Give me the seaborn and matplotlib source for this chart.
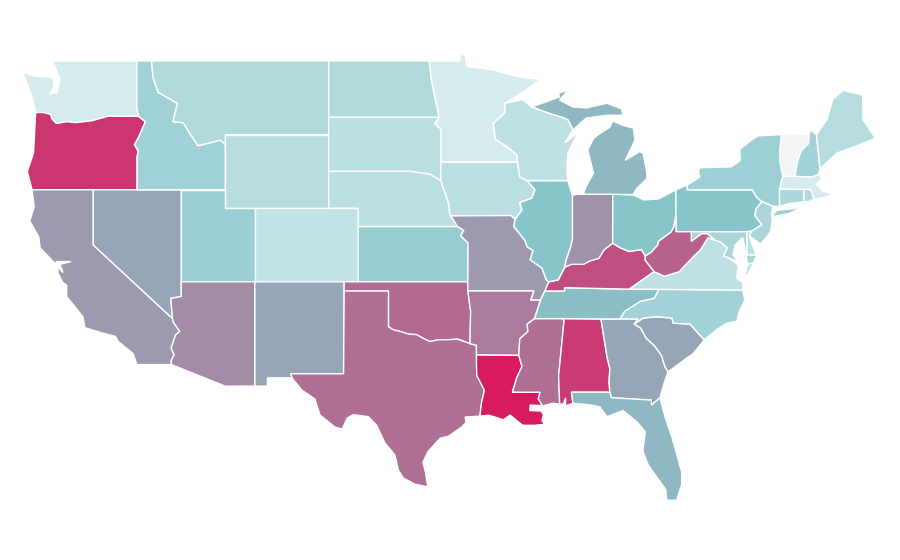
import matplotlib
matplotlib.use("Agg")
import matplotlib.pyplot as plt
from matplotlib.colors import LinearSegmentedColormap
import seaborn as sns

# state rates (0 = palest, 100 = deepest)
state_names = ["WA", "OR", "CA", "NV", "ID", "MT", "WY", "UT", "CO", "AZ", "NM", "ND", "SD", "NE", "KS", "OK",
               "TX", "MN", "IA", "MO", "AR", "LA", "MS", "AL", "GA", "FL", "SC", "NC", "TN", "KY", "IL", "IN",
               "OH", "MI", "WI", "PA", "NY", "NJ", "DE", "MD", "VA", "WV", "CT", "RI", "MA", "VT", "NH", "ME"]
state_values = [14, 92, 63, 59, 39, 31, 28, 42, 22, 67, 59, 31, 26, 26, 44, 77,
                75, 14, 26, 63, 72, 100, 75, 91, 59, 54, 59, 38, 52, 85, 50, 65,
                50, 54, 24, 50, 40, 34, 26, 34, 24, 79, 33, 30, 14, 0, 38, 28]

# colour stops of the scale
scale_stops = [0, 0.14, 0.5, 1]
scale_colors = ["#f3f4f6", "#d5ebee", "#88c6cb", "#d81b60"]

# borders used by two states, as (lon, lat)
rio_red = [(-100, 34.56), (-99.7, 34.4), (-99.2, 34.3), (-98.6, 34.15), (-98.1, 34.13), (-97.7, 33.95), (-97.2, 33.75),
           (-96.6, 33.85), (-96, 33.85), (-95.3, 33.88), (-94.48, 33.64)]
miss_lower = [(-90.1, 35), (-90.6, 34.7), (-90.55, 34.3), (-91.1, 33.9), (-91.17, 33)]
miss_la = [(-91.17, 33), (-90.95, 32.4), (-91.3, 31.8), (-91.6, 31)]
ohio_river = [(-89.13, 37), (-88.5, 37.1), (-88.05, 37.8), (-87.6, 37.95), (-86.8, 37.95), (-86.3, 38.15), (-85.75, 38.27),
              (-85.4, 38.73), (-84.81, 39.1)]
ohio_upper = [(-84.81, 39.1), (-84.3, 38.85), (-83.7, 38.65), (-82.85, 38.75), (-82.6, 38.4)]
wabash = [(-87.53, 39.35), (-87.65, 38.9), (-87.95, 38.2), (-88.05, 37.8)]
miss_il = [(-89.13, 37), (-89.3, 37.1), (-89.6, 37.75), (-90.4, 38.2), (-90.2, 38.7), (-90.6, 38.9), (-90.75, 39.25),
           (-91.5, 40), (-91.42, 40.4)]
miss_ia = [(-91.42, 40.4), (-90.95, 40.9), (-91.1, 41.3), (-90.28, 41.55), (-90.07, 42), (-90.6, 42.5)]
snake = [(-116.92, 45.99), (-116.47, 45.7), (-116.9, 44.9), (-117.2, 44.45), (-116.95, 44.1), (-117.03, 43.8), (-117.03, 42)]
columbia = [(-123.9, 46.2), (-123.4, 46.2), (-122.9, 46.1), (-122.8, 45.85), (-122.5, 45.6), (-121.8, 45.7), (-121.2, 45.65),
            (-120.1, 45.75), (-119.3, 45.93), (-118.98, 46), (-116.92, 45.99)]
bitterroot = [(-116.05, 49), (-115.95, 48.1), (-115.6, 47.3), (-114.3, 46.7), (-114.6, 45.7), (-113.9, 45.65), (-113.45, 45.05),
              (-112.9, 44.4), (-112.1, 44.55), (-111.4, 44.7), (-111.05, 44.45)]
colorado_r = [(-114.7, 32.5), (-114.72, 32.72), (-114.52, 33.03), (-114.72, 33.4), (-114.43, 34.1), (-114.14, 34.3),
              (-114.57, 34.8), (-114.63, 35)]
savannah = [(-83.35, 34.7), (-82.9, 34.48), (-82.55, 33.95), (-81.95, 33.5), (-81.5, 33), (-81.27, 32.4), (-81.06, 32.1)]
appalach = [(-77.87, 39.25), (-78.35, 39.4), (-78.85, 38.75), (-79.3, 38.4), (-79.9, 37.9), (-80.3, 37.55), (-81.3, 37.3), (-82, 37.55)]
delaware = [(-74.7, 41.36), (-75.1, 40.95), (-75.17, 40.6), (-74.7, 40.1), (-75.4, 39.75)]

# state outlines, a state may have more than one part
outlines = {
    "WA": [[(-122.76, 49), (-117.04, 49), (-117.04, 46.4)] + columbia[::-1] + [(-124.05, 46.7), (-124.15, 47), (-124.4, 47.6),
            (-124.7, 48.15), (-124.72, 48.38), (-123.9, 48.17), (-123.1, 48.15), (-122.75, 48.1), (-122.65, 47.6), (-122.95, 47.2),
            (-122.45, 47.3), (-122.35, 47.7), (-122.25, 48), (-122.5, 48.5)]],
    "OR": [columbia + snake[1:] + [(-124.15, 42), (-124.47, 43), (-124.05, 44), (-123.95, 45.5)]],
    "CA": [[(-124.15, 42), (-120, 42), (-120, 39)] + colorado_r[::-1] + [(-117.05, 32.5), (-117.3, 33.1), (-118.3, 33.75),
            (-118.5, 34.03), (-119.3, 34.2), (-120.56, 34.5), (-120.7, 35.1), (-121.8, 36.2), (-121.8, 36.8), (-122.1, 37),
            (-122.4, 37.5), (-122.4, 37.8), (-122.05, 37.5), (-122.25, 37.95), (-121.5, 38.1), (-122.45, 38.1), (-122.6, 38),
            (-123.6, 38.85), (-123.7, 39.45), (-124.3, 40.3), (-124, 41.1)]],
    "NV": [[(-120, 42), (-114.04, 42), (-114.04, 36.2), (-114.75, 36.1), (-114.63, 35), (-120, 39)]],
    "ID": [[(-117.04, 49)] + bitterroot + [(-111.05, 42)] + snake[::-1] + [(-117.04, 46.4)]],
    "MT": [[(-104.05, 49), (-104.05, 45), (-111.05, 45)] + bitterroot[::-1]],
    "WY": [[(-111.05, 45), (-104.05, 45), (-104.05, 41), (-111.05, 41)]],
    "UT": [[(-114.04, 42), (-111.05, 42), (-111.05, 41), (-109.05, 41), (-109.05, 37), (-114.04, 37)]],
    "CO": [[(-109.05, 41), (-102.05, 41), (-102.05, 37), (-109.05, 37)]],
    "AZ": [[(-114.04, 37), (-109.05, 37), (-109.05, 31.33), (-111.07, 31.33)] + colorado_r + [(-114.75, 36.1), (-114.04, 36.2)]],
    "NM": [[(-109.05, 37), (-103, 37), (-103.04, 32), (-106.62, 32), (-106.53, 31.78), (-108.2, 31.78), (-108.2, 31.33),
            (-109.05, 31.33)]],
    "ND": [[(-104.05, 49), (-97.23, 49), (-97.1, 48), (-96.56, 45.94), (-104.05, 45.94)]],
    "SD": [[(-104.05, 45.94), (-96.56, 45.94), (-96.85, 45.6), (-96.45, 45.3), (-96.45, 42.49), (-97.2, 42.85), (-98.5, 43),
            (-104.05, 43)]],
    "NE": [[(-104.05, 43), (-98.5, 43), (-97.2, 42.85), (-96.45, 42.49), (-96.1, 41.7), (-95.9, 41.2), (-95.85, 40.7),
            (-95.31, 40), (-102.05, 40), (-102.05, 41), (-104.05, 41)]],
    "KS": [[(-102.05, 40), (-95.31, 40), (-94.9, 39.8), (-95.1, 39.5), (-94.61, 39.11), (-94.62, 37), (-102.05, 37)]],
    "OK": [[(-103, 37), (-94.62, 37), (-94.62, 36.5), (-94.43, 35.4)] + rio_red[::-1] + [(-100, 36.5), (-103, 36.5)]],
    "TX": [[(-106.62, 32), (-103.04, 32), (-103, 36.5), (-100, 36.5)] + rio_red + [(-94.04, 33.55), (-94.02, 31.93), (-93.5, 31.1),
            (-93.7, 30.4), (-93.8, 29.7), (-94.8, 29.65), (-94.75, 29.35), (-95.04, 29.1), (-95.95, 28.6), (-96.5, 28.5), (-97.32, 27.77),
            (-97.66, 27.2), (-97.48, 26.6), (-97.34, 25.85), (-98.2, 26), (-98.99, 26.33), (-99.33, 26.77), (-99.56, 27.59),
            (-100.24, 28.24), (-100.8, 29.2), (-101.37, 29.67), (-102.38, 29.78), (-102.79, 29.6), (-103.13, 29), (-103.62, 29.1),
            (-104.64, 29.76), (-104.98, 30.63), (-105.88, 31.12), (-106.53, 31.78)]],
    "MN": [[(-97.23, 49), (-95.15, 49), (-95.15, 49.38), (-94.8, 49.3), (-94.67, 48.7), (-92.8, 48.5), (-92, 48.3), (-90.9, 48.1),
            (-89.7, 48), (-90.9, 47.3), (-92.1, 46.7), (-92.1, 46.2), (-92.9, 45.6), (-92.75, 44.75), (-91.9, 44.3),
            (-91.3, 43.9), (-91.25, 43.5), (-96.45, 43.5), (-96.45, 45.3), (-96.85, 45.6), (-96.56, 45.94), (-97.1, 48)]],
    "IA": [[(-96.45, 43.5), (-91.25, 43.5), (-91.1, 42.7)] + miss_ia[::-1] + [(-91.7, 40.6), (-95.77, 40.58), (-95.85, 40.7), (-95.9, 41.2),
            (-96.1, 41.7), (-96.45, 42.49)]],
    "MO": [[(-95.77, 40.58), (-91.7, 40.6)] + miss_il[::-1] + [(-89.4, 36.5), (-89.7, 36), (-90.37, 36), (-90.15, 36.5), (-94.62, 36.5),
            (-94.62, 37), (-94.61, 39.11), (-95.1, 39.5), (-94.9, 39.8), (-95.31, 40)]],
    "AR": [[(-94.62, 36.5), (-90.15, 36.5), (-90.37, 36), (-89.7, 36)] + miss_lower + [(-94.04, 33.02), (-94.04, 33.55), (-94.48, 33.64),
            (-94.43, 35.4)]],
    "LA": [[(-94.04, 33.02)] + miss_la + [(-89.73, 31), (-89.85, 30.65), (-89.55, 30.25), (-89.75, 30.28), (-90.4, 30.3), (-90.42, 30),
            (-89.65, 29.98), (-89.5, 29.76), (-89.6, 29.45), (-89.17, 29.05), (-89.5, 29.25), (-90.1, 29.2), (-90.9, 29.2), (-91.3, 29.45),
            (-91.76, 29.76), (-92.2, 29.5), (-93.2, 29.75), (-93.8, 29.7), (-93.7, 30.4), (-93.5, 31.1), (-94.02, 31.93)]],
    "MS": [[(-88.2, 35), (-88.1, 34.9), (-88.47, 31.9), (-88.4, 30.35), (-88.85, 30.4), (-89.35, 30.3), (-89.55, 30.25), (-89.85, 30.65),
            (-89.73, 31)] + miss_la[::-1] + miss_lower[::-1]],
    "AL": [[(-88.2, 35), (-85.6, 34.98), (-85.18, 32.87), (-85, 32.3), (-85.05, 31.55), (-85, 31), (-87.6, 31), (-87.5, 30.4), (-88, 30.25),
            (-88, 30.7), (-88.15, 30.35), (-88.4, 30.35), (-88.47, 31.9), (-88.1, 34.9)]],
    "GA": [[(-85.6, 34.98), (-83.1, 34.98)] + savannah + [(-81.15, 31.9), (-81.4, 31.3), (-81.6, 30.7), (-82.17, 30.3), (-82.2, 30.57),
            (-84.9, 30.7), (-85, 31), (-85.05, 31.55), (-85, 32.3), (-85.18, 32.87)]],
    "FL": [[(-87.6, 31), (-85, 31), (-84.9, 30.7), (-82.2, 30.57), (-82.17, 30.3), (-81.6, 30.7), (-81.26, 29.65), (-80.8, 28.57),
            (-80.13, 26.65), (-80.13, 26), (-80.47, 25.13), (-81.15, 25.13), (-81.2, 25.7), (-81.83, 26.4), (-82.4, 27.05), (-82.76, 27.8),
            (-82.6, 28.85), (-83.18, 29.4), (-84.1, 30), (-85.2, 29.67), (-85.67, 30.2), (-86.23, 30.3), (-87.5, 30.4)]],
    "SC": [[(-83.35, 34.7), (-82.75, 35.03), (-81.83, 35.1), (-80.8, 35.03), (-80.7, 34.75), (-79.57, 34.7), (-78.6, 33.84), (-79.35, 33.1),
            (-79.8, 32.85), (-81.06, 32.1)] + savannah[::-1][1:]],
    "NC": [[(-84.32, 34.98), (-83.1, 34.98), (-83.35, 34.7), (-82.75, 35.03), (-81.83, 35.1), (-80.8, 35.03), (-80.7, 34.75), (-79.57, 34.7),
            (-78.6, 33.84), (-77.76, 34.4), (-77.08, 34.75), (-76.4, 34.85), (-76.2, 35.45), (-75.85, 36), (-76, 36.55), (-81.68, 36.59),
            (-82, 36.1), (-82.9, 35.95), (-84, 35.4)]],
    "TN": [[(-90.1, 35), (-89.7, 36), (-89.4, 36.5), (-88.07, 36.5), (-88.07, 36.68), (-83.68, 36.6), (-81.68, 36.59), (-82, 36.1),
            (-82.9, 35.95), (-84, 35.4), (-84.32, 34.98), (-85.6, 34.98), (-88.2, 35)]],
    "KY": [[(-89.4, 36.5)] + ohio_river + ohio_upper[1:] + [(-82.6, 38.17), (-82, 37.55), (-83.68, 36.6), (-88.07, 36.68), (-88.07, 36.5)]],
    "IL": [[(-90.6, 42.5), (-87.85, 42.5), (-87.55, 41.75), (-87.53, 41.7)] + wabash + [(-88.5, 37.1)] + miss_il + miss_ia[1:]],
    "IN": [[(-87.53, 41.7), (-87.2, 41.76), (-84.8, 41.76)] + ohio_river[:1:-1] + wabash[::-1][1:]],
    "OH": [[(-84.8, 41.76), (-83.45, 41.73), (-82.7, 41.45), (-81.7, 41.5), (-80.52, 42), (-80.52, 40.64), (-80.65, 40), (-80.85, 39.7),
            (-81.7, 39.2), (-81.75, 39), (-82.2, 38.6)] + ohio_upper[::-1]],
    "MI": [[(-86.8, 41.76), (-84.8, 41.76), (-83.45, 41.73), (-83.15, 42.1), (-82.5, 42.6), (-82.5, 42.95), (-82.75, 44), (-83, 44.07),
            (-83.96, 43.6), (-83.3, 44.7), (-83.4, 45.35), (-84.1, 45.5), (-84.8, 45.75), (-85, 45.4), (-85.6, 45.1), (-86.1, 44.8),
            (-86.5, 44.16), (-86.1, 42.9), (-86.6, 42.2)],
           [(-90.3, 46.5), (-88.4, 47.05), (-88.5, 47.25), (-87.84, 47.4), (-88.4, 46.88), (-87.5, 46.5), (-86.6, 46.45), (-85.2, 46.7),
            (-84.2, 46.4), (-84.1, 46.05), (-85.2, 46.05), (-86.6, 45.9), (-87.5, 45.25), (-87.84, 45.8), (-88.1, 45.9), (-89.1, 46.15)]],
    "WI": [[(-92.1, 46.7), (-90.9, 46.9), (-90.3, 46.5), (-89.1, 46.15), (-88.1, 45.9), (-87.84, 45.8), (-87.5, 45.25), (-88.05, 44.55),
            (-87.15, 45.1), (-87.84, 44), (-87.9, 43), (-87.85, 42.5), (-90.6, 42.5), (-91.1, 42.7), (-91.25, 43.5), (-91.3, 43.9),
            (-91.9, 44.3), (-92.75, 44.75), (-92.9, 45.6), (-92.1, 46.2)]],
    "PA": [[(-80.52, 42), (-79.75, 42.26), (-79.75, 42), (-75.35, 42), (-75.05, 41.6)] + delaware + [(-75.73, 39.72), (-80.52, 39.72), (-80.52, 40.64)]],
    "NY": [[(-79.75, 42.26), (-78.9, 42.7), (-79, 43), (-78.9, 43.2), (-76.75, 43.25), (-76.15, 43.6), (-76.2, 44.2), (-75.4, 44.7),
            (-74.95, 44.93), (-73.36, 45), (-73.47, 44.2), (-73.47, 43.5), (-73.27, 42.75), (-73.5, 42.05), (-73.5, 41.1),
            (-73.95, 41.1), (-74.7, 41.36), (-75.05, 41.6), (-75.35, 42), (-79.75, 42)],
           [(-73.93, 40.65), (-73.7, 40.88), (-72.6, 40.97), (-72, 41.07), (-72.8, 40.72), (-73.9, 40.55)]],
    "NJ": [[(-74.7, 41.36), (-73.95, 41.1), (-74.05, 40.65), (-74, 40.3), (-74.1, 39.75), (-74.4, 39.4), (-74.8, 39.05), (-75.05, 39.2),
            (-75.55, 39.5), (-75.4, 39.75), (-74.7, 40.1), (-75.17, 40.6), (-75.1, 40.95)]],
    "DE": [[(-75.73, 39.72), (-75.4, 39.75), (-75.55, 39.5), (-75.4, 39.1), (-75.05, 38.45), (-75.7, 38.46)]],
    "MD": [[(-79.48, 39.72), (-75.73, 39.72), (-75.7, 38.46), (-75.05, 38.45), (-75.25, 38.03), (-75.65, 37.95), (-75.75, 38.35),
            (-75.85, 38.85), (-76, 39.4), (-76.52, 39), (-76.65, 38.45), (-76.32, 38.08), (-76.95, 38.3), (-77.3, 38.4), (-77.05, 38.85),
            (-77.5, 39.15), (-77.87, 39.25), (-78.4, 39.62), (-78.8, 39.6), (-79.48, 39.2)]],
    "VA": [[(-83.68, 36.6), (-81.68, 36.59), (-76, 36.55), (-76, 36.95), (-76.4, 37.2), (-76.3, 37.9), (-76.95, 38.3), (-77.3, 38.4),
            (-77.05, 38.85), (-77.5, 39.15)] + appalach,
           [(-75.25, 38.03), (-75.65, 37.95), (-75.95, 37.15), (-75.6, 37.5)]],
    "WV": [[(-82.6, 38.17), (-82.6, 38.4), (-82.2, 38.6), (-81.75, 39), (-81.7, 39.2), (-80.85, 39.7), (-80.65, 40), (-80.52, 40.64),
            (-80.52, 39.72), (-79.48, 39.72), (-79.48, 39.2), (-78.8, 39.6), (-78.4, 39.62)] + appalach],
    "CT": [[(-73.5, 42.05), (-71.85, 42.02), (-71.85, 41.35), (-72.9, 41.25), (-73.5, 41.1)]],
    "RI": [[(-71.85, 42.02), (-71.38, 42.02), (-71.15, 41.5), (-71.5, 41.37), (-71.85, 41.35)]],
    "MA": [[(-73.5, 42.05), (-73.27, 42.75), (-71.3, 42.7), (-70.85, 42.85), (-70.6, 42.65), (-71, 42.3), (-70.6, 41.95), (-70.05, 41.8),
            (-70, 42.05), (-69.95, 41.7), (-70.65, 41.55), (-71.15, 41.5), (-71.38, 42.02), (-71.85, 42.02)]],
    "VT": [[(-73.36, 45), (-71.5, 45.01), (-71.55, 44.5), (-72.05, 44.1), (-72.3, 43.5), (-72.45, 42.73), (-73.27, 42.75), (-73.47, 43.5),
            (-73.47, 44.2)]],
    "NH": [[(-71.5, 45.01), (-71.4, 45.25), (-71, 45), (-70.76, 43.15), (-70.85, 42.85), (-71.3, 42.7), (-72.45, 42.73), (-72.3, 43.5),
            (-72.05, 44.1), (-71.55, 44.5)]],
    "ME": [[(-71, 45), (-70.3, 45.8), (-69.9, 46.9), (-69.2, 47.4), (-67.87, 47.15), (-67.85, 45.8), (-67.5, 45.4), (-67, 44.8),
            (-68.4, 44.35), (-69.6, 44), (-70.76, 43.15)]],
}

sns.set_theme(style="white")
cmap = LinearSegmentedColormap.from_list("rate", list(zip(scale_stops, scale_colors)))

fig = plt.figure(figsize=(9, 5.6), dpi=100)
ax = fig.add_axes([0, 0, 1, 1])

for name, value in zip(state_names, state_values):
    for part in outlines[name]:
        lons = [p[0] for p in part]
        lats = [p[1] for p in part]
        ax.fill(lons, lats, facecolor=cmap(value / 100), edgecolor="white", linewidth=1)

# plain lon/lat map frame
ax.set_xlim(-126.32, -65.34)
ax.set_ylim(21.88, 52.315)
ax.axis("off")

fig.savefig("out.png", dpi=100)
